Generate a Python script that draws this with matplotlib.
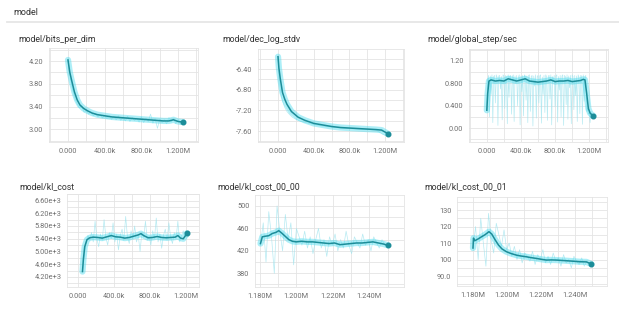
import numpy as np
import matplotlib.pyplot as plt
from matplotlib.ticker import MultipleLocator, FixedLocator, FixedFormatter

plt.rcParams['font.family'] = ['Roboto', 'DejaVu Sans']

# ---------------- data (steps in thousands) ----------------
# bits_per_dim
bpd_steps = [0, 20, 40, 70, 100, 130, 170, 210, 260, 320, 400, 480, 560, 640, 720, 800,
             880, 960, 1040, 1100, 1150, 1200, 1250]
bpd_smooth = [4.22, 4.00, 3.86, 3.66, 3.52, 3.43, 3.37, 3.33, 3.29, 3.26, 3.24, 3.22, 3.21,
              3.20, 3.19, 3.18, 3.17, 3.16, 3.15, 3.15, 3.17, 3.14, 3.13]
bpd_raw = [4.22, 3.90, 3.70, 3.55, 3.45, 3.38, 3.42, 3.30, 3.33, 3.27, 3.31, 3.24, 3.28,
           3.22, 3.26, 3.20, 3.25, 3.19, 3.24, 3.18, 3.23, 3.17, 3.24, 3.16, 3.22, 3.15,
           3.23, 3.14, 3.21, 3.16, 3.20, 3.13, 3.22, 3.12, 3.20, 3.14, 3.27, 3.11, 3.19,
           3.02, 3.18, 3.12, 3.17, 3.10, 3.21, 3.13, 3.19, 3.10, 3.17, 3.09, 3.12]

# dec_log_stdv
dls_steps = [0, 10, 25, 50, 75, 100, 150, 225, 300, 400, 500, 600, 700, 800, 900, 1000,
             1100, 1160, 1200, 1230]
dls_smooth = [-6.16, -6.38, -6.58, -6.85, -6.98, -7.08, -7.22, -7.33, -7.39, -7.45, -7.48,
              -7.51, -7.53, -7.54, -7.55, -7.56, -7.57, -7.58, -7.62, -7.65]
dls_raw_steps = [0, 15, 30, 50, 75, 100, 130, 160, 200, 250, 300, 400, 500, 600, 700, 800,
                 900, 1000, 1100, 1170, 1200, 1230]
dls_raw = [-6.16, -6.62, -6.85, -7.02, -7.14, -7.22, -7.28, -7.33, -7.37, -7.41, -7.43,
           -7.47, -7.50, -7.52, -7.54, -7.55, -7.56, -7.57, -7.58, -7.66, -7.68, -7.66]

# global_step/sec
gss_steps = [0, 10, 25, 50, 100, 150, 200, 250, 300, 350, 400, 450, 500, 550, 600, 650, 700,
             750, 800, 850, 900, 950, 1000, 1050, 1100, 1130, 1150, 1170, 1190, 1210, 1230, 1250]
gss_smooth = [0.32, 0.62, 0.84, 0.86, 0.84, 0.85, 0.84, 0.88, 0.86, 0.84, 0.86, 0.88, 0.84,
              0.83, 0.82, 0.83, 0.84, 0.86, 0.83, 0.84, 0.84, 0.85, 0.83, 0.84, 0.85, 0.87,
              0.86, 0.62, 0.35, 0.27, 0.24, 0.22]
gss_raw = [0.32, 0.85, 0.94, 0.20, 0.93, 0.60, 0.95, 0.10, 0.92, 0.94,
           0.45, 0.95, 0.91, 0.05, 0.93, 0.94, 0.70, 0.92, 0.15, 0.95,
           0.93, 0.35, 0.94, 0.90, 0.08, 0.95, 0.55, 0.93, 0.94, 0.25,
           0.92, 0.95, 0.12, 0.93, 0.80, 0.94, 0.40, 0.91, 0.95, 0.06,
           0.93, 0.65, 0.94, 0.22, 0.95, 0.92, 0.50, 0.93, 0.10, 0.94,
           0.95, 0.30, 0.92, 0.94, 0.04, 0.93, 0.75, 0.95, 0.18, 0.92,
           0.94, 0.45, 0.93, 0.95, 0.09, 0.91, 0.60, 0.94, 0.28, 0.95,
           0.92, 0.14, 0.93, 0.94, 0.52, 0.95, 0.06, 0.92, 0.85, 0.94,
           0.38, 0.93, 0.95, 0.11, 0.92, 0.68, 0.94, 0.20, 0.93, 0.95,
           0.05, 0.94, 0.92, 0.42, 0.95, 0.16, 0.93, 0.72, 0.94, 0.08,
           0.95, 0.92, 0.33, 0.94, 0.58, 0.93, 0.12, 0.95, 0.91, 0.26,
           0.94, 0.93, 0.07, 0.95, 0.48, 0.92, 0.94, 0.30, 0.35, 0.25,
           0.28, 0.10, 0.30, 0.22, 0.18]

# kl_cost
kl_steps = [50, 60, 75, 100, 130, 170, 220, 270, 320, 370, 420, 470, 520, 570, 620, 670,
            700, 730, 780, 830, 880, 930, 980, 1030, 1080, 1110, 1140, 1170, 1190, 1210]
kl_smooth = [4370, 4750, 5150, 5370, 5430, 5450, 5440, 5420, 5460, 5500, 5460, 5450, 5420,
             5440, 5480, 5520, 5560, 5500, 5430, 5440, 5470, 5440, 5430, 5440, 5450, 5500,
             5420, 5400, 5480, 5570]
kl_raw = [4370, 4900, 5300, 5500, 5350, 5600, 5300, 5950, 5400, 5150, 5550, 5350, 6000,
          5450, 5200, 5600, 5400, 5900, 5300, 5550, 5050, 5500, 5700, 5350, 6100, 5450,
          5250, 5650, 5400, 5800, 5300, 5500, 5000, 5600, 5450, 5950, 5350, 5500, 5200,
          5650, 5400, 6050, 5300, 5550, 5100, 5500, 5700, 5350, 5900, 5450, 5250, 5600,
          5400, 5950, 5300, 5500, 5650, 5450, 5600]

# kl_cost_00_00
k0_steps = [1180.5, 1181.5, 1183, 1185, 1187, 1189, 1190.5, 1192, 1194, 1196, 1198, 1200,
            1203, 1206, 1209, 1212, 1215, 1218, 1221, 1224, 1227, 1230, 1233, 1236, 1239,
            1242, 1245, 1248, 1250]
k0_smooth = [433, 445, 446, 447, 451, 453, 456, 452, 446, 440, 437, 436, 437, 436, 436, 435,
             434, 433, 434, 431, 432, 433, 434, 434, 435, 436, 434, 432, 430]
k0_raw = [430, 470, 400, 490, 445, 380, 500, 455, 420, 485, 440, 470, 395, 460, 445, 430,
          455, 425, 445, 415, 440, 460, 425, 440, 410, 445, 430, 450, 420, 440, 425, 455,
          430, 415, 445, 435, 425, 450, 430, 440, 420, 445, 435, 425, 440, 430, 428]

# kl_cost_00_01
k1_steps = [1180, 1180.3, 1181, 1183, 1185, 1187, 1189.4, 1191, 1193, 1195, 1197, 1199.6,
            1202, 1205.5, 1208, 1211.4, 1214, 1217.3, 1220, 1223.2, 1226, 1229, 1232, 1235,
            1239, 1242.7, 1246.7, 1249.6]
k1_smooth = [107, 113, 111.4, 112.5, 113.8, 115, 116.9, 115.5, 112, 108.8, 106.5, 104.8,
             103.8, 102.7, 102.2, 101.7, 101.2, 100.7, 100.2, 99.7, 99.8, 99.7, 99.5, 99.3,
             99.0, 98.7, 98.6, 97.3]
k1_raw = [107, 120, 100, 125, 110, 96, 128, 112, 104, 122, 115, 108, 118, 106, 110, 102,
          108, 100, 106, 98, 104, 102, 99, 105, 97, 103, 100, 106, 98, 102, 97, 104, 99,
          101, 96, 103, 98, 100, 95, 102, 99, 97, 101, 96, 99, 97, 96]

big_xt = [0, 400, 800, 1200]
big_xl = ["0.000", "400.0k", "800.0k", "1.200M"]
small_xt = [1180, 1200, 1220, 1240]
small_xl = ["1.180M", "1.200M", "1.220M", "1.240M"]

# ---------------- figure ----------------
W, H = 619, 317
fig = plt.figure(figsize=(W / 100, H / 100), dpi=100)
fig.patch.set_facecolor("white")

DARK = "#1c8d99"
GLOW = "#4adbee"
RAW = "#9fe4ee"


def px_axes(left, top, right, bottom):
    return fig.add_axes([left / W, 1 - bottom / H, (right - left) / W, (bottom - top) / H])


def panel(box, title, title_xy, raw_x, raw_y, sx, sy, xlim, ylim, xt, xl, yt, yl, xminor, yminor):
    ax = px_axes(*box)
    ax.plot(raw_x, raw_y, color=RAW, lw=0.5, alpha=0.75, zorder=2)
    ax.plot(sx, sy, color=GLOW, lw=4.5, alpha=0.45, solid_capstyle="round", zorder=3)
    ax.plot(sx, sy, color=DARK, lw=1.1, zorder=4)
    ax.plot(sx[-1], sy[-1], "o", color=DARK, ms=3.3, zorder=5)
    ax.set_xlim(*xlim)
    ax.set_ylim(*ylim)
    ax.xaxis.set_major_locator(FixedLocator(xt))
    ax.xaxis.set_major_formatter(FixedFormatter(xl))
    ax.yaxis.set_major_locator(FixedLocator(yt))
    ax.yaxis.set_major_formatter(FixedFormatter(yl))
    ax.xaxis.set_minor_locator(MultipleLocator(xminor))
    ax.yaxis.set_minor_locator(MultipleLocator(yminor))
    ax.grid(True, which="both", color="#e4e4e4", lw=0.6, zorder=0)
    ax.set_axisbelow(True)
    ax.tick_params(which="both", length=0, labelsize=5.3, labelcolor="#707070", pad=4)
    for s in ax.spines.values():
        s.set_color("#e4e4e4")
        s.set_linewidth(0.6)
    fig.text(title_xy[0] / W, 1 - title_xy[1] / H, title, fontsize=6.3, color="#333333",
             va="center", ha="left")
    return ax


def spread(a, b, vals):
    return np.linspace(a, b, len(vals))


fig.text(13 / W, 1 - 12.5 / H, "model", fontsize=6.5, color="#333333", va="center")
fig.add_artist(plt.Line2D([7 / W, 1], [1 - 22 / H, 1 - 22 / H], color="#e6e6e6", lw=1.3))

panel((49, 48, 198, 142), "model/bits_per_dim", (18, 39),
      spread(0, 1250, bpd_raw), bpd_raw, bpd_steps, bpd_smooth,
      (-207, 1417), (2.78, 4.43), big_xt, big_xl,
      [3.0, 3.4, 3.8, 4.2], ["3.00", "3.40", "3.80", "4.20"], 200, 0.2)

panel((258, 49, 404, 142), "model/dec_log_stdv", (222, 39),
      dls_raw_steps, dls_raw, dls_steps, dls_smooth,
      (-224, 1410), (-7.81, -6.01), big_xt, big_xl,
      [-7.6, -7.2, -6.8, -6.4], ["-7.60", "-7.20", "-6.80", "-6.40"], 200, 0.2)

panel((469, 49, 608, 142), "model/global_step/sec", (427, 39),
      spread(0, 1240, gss_raw), gss_raw, gss_steps, gss_smooth,
      (-209, 1420), (-0.245, 1.41), big_xt, big_xl,
      [0.0, 0.4, 0.8, 1.2], ["0.00", "0.400", "0.800", "1.20"], 200, 0.2)

panel((67, 194, 199, 287), "model/kl_cost", (19, 187),
      spread(50, 1210, kl_raw), kl_raw, kl_steps, kl_smooth,
      (-122, 1345), (3886, 6804), big_xt, big_xl,
      [4200, 4600, 5000, 5400, 5800, 6200, 6600],
      ["4.20e+3", "4.60e+3", "5.00e+3", "5.40e+3", "5.80e+3", "6.20e+3", "6.60e+3"], 200, 200)

panel((255, 195, 404, 287), "model/kl_cost_00_00", (217, 187),
      spread(1180.5, 1250, k0_raw), k0_raw, k0_steps, k0_smooth,
      (1177.5, 1259), (355.5, 519.6), small_xt, small_xl,
      [380, 420, 460, 500], ["380", "420", "460", "500"], 10, 20)

panel((457, 197, 607, 286), "model/kl_cost_00_01", (424, 187),
      spread(1180, 1250, k1_raw), k1_raw, k1_steps, k1_smooth,
      (1170.6, 1258.8), (84, 137.9), small_xt, small_xl,
      [90, 100, 110, 120, 130], ["90.0", "100", "110", "120", "130"], 10, 5)

fig.savefig("out.png", dpi=100, facecolor="white")
